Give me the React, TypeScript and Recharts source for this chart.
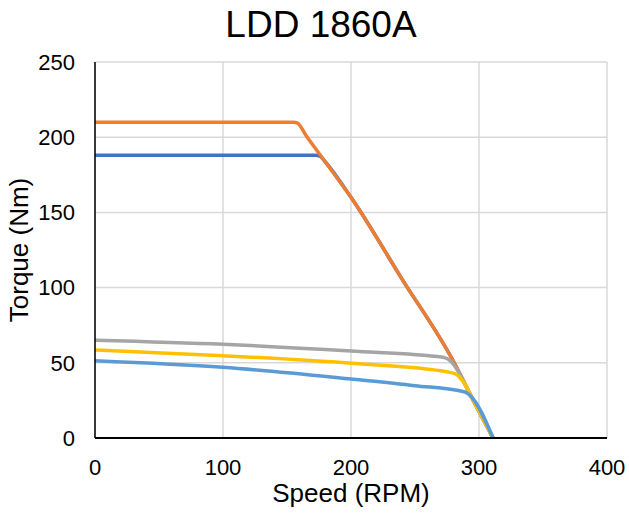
import { LineChart, Line, XAxis, YAxis, CartesianGrid } from "recharts";

// torque curves (speed in RPM, torque in Nm)
const peakLow = [
  { speed: 0, torque: 188 },
  { speed: 100, torque: 188 },
  { speed: 172, torque: 188 },
  { speed: 176, torque: 187.3 },
  { speed: 180, torque: 183.5 },
  { speed: 200, torque: 160 },
  { speed: 240, torque: 105.5 },
  { speed: 280, torque: 51 },
  { speed: 294, torque: 27.5 },
  { speed: 311, torque: 0 },
];

const peakHigh = [
  { speed: 0, torque: 210 },
  { speed: 100, torque: 210 },
  { speed: 155, torque: 210 },
  { speed: 158, torque: 209.5 },
  { speed: 165, torque: 201 },
  { speed: 180, torque: 183.5 },
  { speed: 200, torque: 160 },
  { speed: 240, torque: 105.5 },
  { speed: 280, torque: 51 },
  { speed: 294, torque: 27.5 },
  { speed: 311, torque: 0 },
];

const contHigh = [
  { speed: 0, torque: 65 },
  { speed: 100, torque: 62.3 },
  { speed: 200, torque: 57.8 },
  { speed: 272, torque: 53.7 },
  { speed: 278, torque: 51 },
  { speed: 285, torque: 42.5 },
  { speed: 294, torque: 27.5 },
  { speed: 311, torque: 0 },
];

const contMid = [
  { speed: 0, torque: 58.5 },
  { speed: 100, torque: 54.7 },
  { speed: 200, torque: 49.7 },
  { speed: 275, torque: 44 },
  { speed: 282, torque: 42.5 },
  { speed: 288, torque: 37 },
  { speed: 294, torque: 27.5 },
  { speed: 311, torque: 0 },
];

const contLow = [
  { speed: 0, torque: 51.4 },
  { speed: 100, torque: 47 },
  { speed: 200, torque: 39.2 },
  { speed: 250, torque: 34.8 },
  { speed: 289, torque: 30.6 },
  { speed: 294, torque: 27.5 },
  { speed: 311, torque: 0 },
];

const xTicks = [0, 100, 200, 300, 400];
const yTicks = [0, 50, 100, 150, 200, 250];

const FONT = "'Liberation Sans', Arial, sans-serif";

export default function App() {
  return (
    <div style={{ position: "relative", width: 629, height: 514, fontFamily: FONT, background: "#fff" }}>
      <style>{`body{margin:0}`}</style>
      <svg width={629} height={50} style={{ position: "absolute", left: 0, top: 0, pointerEvents: "none" }}>
        <text x={321} y={37} textAnchor="middle" fontSize={37} fill="#000" fontFamily={FONT}>
          LDD 1860A
        </text>
      </svg>
      <LineChart width={629} height={514} margin={{ top: 62, right: 22, bottom: 0, left: 0 }}>
        <CartesianGrid stroke="#d9d9d9" strokeWidth={1.5} />
        <XAxis
          dataKey="speed"
          type="number"
          domain={[0, 400]}
          ticks={xTicks}
          height={76}
          tickLine={false}
          tickSize={0}
          tickMargin={21}
          axisLine={{ stroke: "#000", strokeWidth: 2 }}
          tick={{ fontSize: 22, fill: "#000", fontFamily: FONT }}
          label={{ value: "Speed (RPM)", position: "insideBottom", offset: 12, fontSize: 26, fill: "#000", fontFamily: FONT }}
        />
        <YAxis
          dataKey="torque"
          type="number"
          domain={[0, 250]}
          ticks={yTicks}
          width={95}
          tickLine={false}
          tickSize={0}
          tickMargin={20}
          axisLine={{ stroke: "#000", strokeWidth: 1.5 }}
          tick={{ fontSize: 22, fill: "#000", fontFamily: FONT }}
          label={{ value: "Torque (Nm)", angle: -90, position: "insideLeft", offset: 19, fontSize: 26, fill: "#000", fontFamily: FONT, style: { textAnchor: "middle" } }}
        />
        <Line data={peakLow} dataKey="torque" type="monotone" stroke="#4472c4" strokeWidth={3.5} dot={false} isAnimationActive={false} />
        <Line data={peakHigh} dataKey="torque" type="monotone" stroke="#ed7d31" strokeWidth={3.5} dot={false} isAnimationActive={false} />
        <Line data={contHigh} dataKey="torque" type="monotone" stroke="#a5a5a5" strokeWidth={3.5} dot={false} isAnimationActive={false} />
        <Line data={contMid} dataKey="torque" type="monotone" stroke="#ffc000" strokeWidth={3.5} dot={false} isAnimationActive={false} />
        <Line data={contLow} dataKey="torque" type="monotone" stroke="#5b9bd5" strokeWidth={3.5} dot={false} isAnimationActive={false} />
      </LineChart>
    </div>
  );
}
